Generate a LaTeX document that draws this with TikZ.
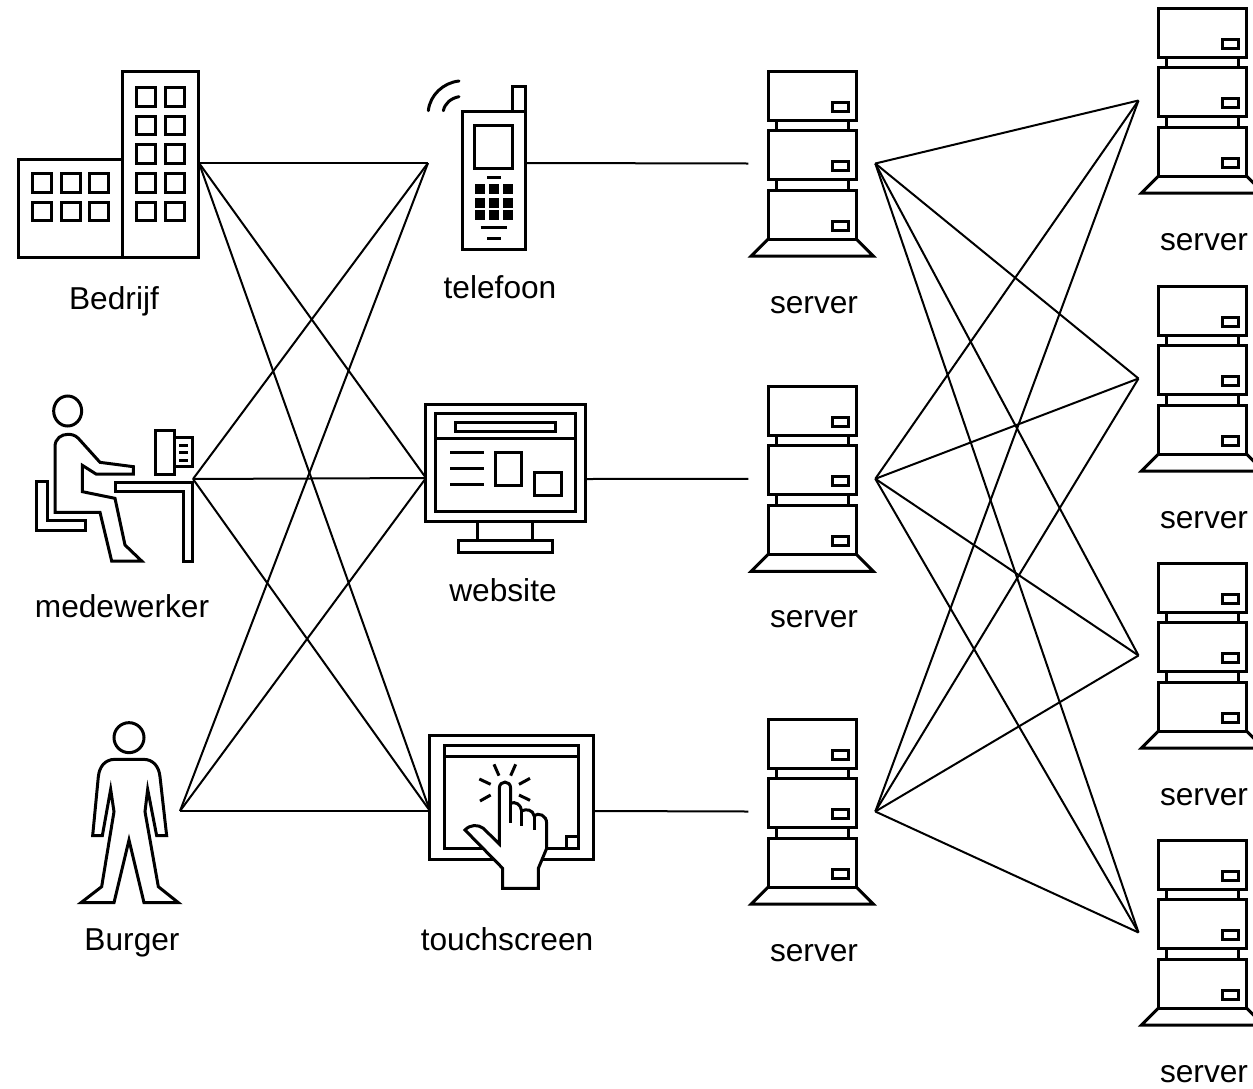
\documentclass[tikz,border=0pt]{standalone}
\usepackage{fontspec}
\setmainfont{Liberation Sans}
\tikzset{
  icon/.style={line width=1.8pt},
  wire/.style={line width=1.2pt},
  lbl/.style={font=\fontsize{19}{23}\selectfont, inner sep=0pt},
  zoomed/.style={shift={#1}, scale=1/3, icon},
  serverstack/.pic={
    \foreach \t in {0,59,119}{
      \draw[icon] (-44,\t) rectangle (44,\t+49);
      \draw[icon] (20,\t+31) rectangle (36,\t+40);
    }
    \foreach \t in {49,108}{
      \draw[icon] (-36,\t) -- (-36,\t+10);
      \draw[icon] (36,\t) -- (36,\t+10);
    }
    \draw[icon] (-44,168) -- (-61,185) -- (61,185) -- (44,168);
    \coordinate (-w) at (-64,92.5);
    \coordinate (-e) at (63,92.5);
  }
}
\begin{document}
\begin{tikzpicture}[x=0.6pt,y=-0.6pt]
  \useasboundingbox (0,0) rectangle (1253,1088);

  \coordinate (bedrijf) at (199,163);
  \coordinate (medewerker) at (193,479);
  \coordinate (burger) at (180,811);
  \coordinate (telefoonL) at (428,163);
  \coordinate (websiteL) at (426,478);
  \coordinate (touchL) at (430,811);
  \coordinate (telefoonR) at (527,163);
  \coordinate (websiteR) at (586,479);
  \coordinate (touchR) at (594,811);

  \pic (srvA) at (812.3,71) {serverstack};
  \pic (srvB) at (812.3,386.3) {serverstack};
  \pic (srvC) at (812.3,719) {serverstack};
  \pic (srvP) at (1202.5,8) {serverstack};
  \pic (srvQ) at (1202.5,286) {serverstack};
  \pic (srvR) at (1202.5,563) {serverstack};
  \pic (srvS) at (1202.5,840) {serverstack};

  % wires
  \foreach \a in {bedrijf,medewerker,burger}
    \foreach \b in {telefoonL,websiteL,touchL}
      \draw[wire] (\a) -- (\b);
  \foreach \a/\b in {telefoonR/srvA-w,websiteR/srvB-w,touchR/srvC-w}
    \draw[wire] (\a) -- (\b);
  \foreach \a in {srvA-e,srvB-e,srvC-e}
    \foreach \b in {srvP,srvQ,srvR,srvS}
      \draw[wire] (\a) -- (\b-w);

  % building
  \begin{scope}[zoomed={(0,60)}]
    \draw (368,297) -- (57,297) -- (57,592) -- (595,592) -- (595,35) -- (368,35) -- cycle;
    \draw (368,297) -- (368,592);
    \foreach \y in {82,168,254,340,426}
      \foreach \x in {410,497}
        \draw (\x,\y) rectangle +(57,56);
    \foreach \y in {340,426}
      \foreach \x in {98,184,270}
        \draw (\x,\y) rectangle +(57,56);
  \end{scope}

  % employee at a desk
  \begin{scope}[zoomed={(20,380)}]
    \draw (143,93) ellipse (42 and 45);
    \draw (105,397) -- (105,200) .. controls (105,175) and (125,163) .. (143,163)
      .. controls (155,163) and (165,165) .. (175,175) -- (240,247) -- (340,260) -- (340,282)
      -- (228,282) -- (187,256) -- (187,335) -- (285,355) -- (315,495) -- (365,543)
      -- (275,543) -- (240,397) -- cycle;
    \draw (82,305) -- (50,305) -- (50,450) -- (198,450) -- (198,422) -- (82,422) -- cycle;
    \draw (287,307) -- (518,307) -- (518,543) -- (492,543) -- (492,333) -- (287,333) -- cycle;
    \draw (407,150) rectangle (463,283);
    \draw (463,172) -- (518,172) -- (518,260) -- (463,260);
    \foreach \y in {195,218,240}
      \draw (478,\y) -- (505,\y);
  \end{scope}

  % citizen
  \begin{scope}[zoomed={(70,710)}]
    \draw (177,83) circle (45);
    \draw (68,377) -- (85,200) .. controls (88,170) and (105,148) .. (135,148) -- (220,148)
      .. controls (250,148) and (267,170) .. (270,200) -- (290,377) -- (260,377) -- (233,238)
      -- (225,305) -- (265,530) -- (325,578) -- (222,578) -- (177,390) -- (132,578)
      -- (33,578) -- (95,530) -- (132,305) -- (122,238) -- (97,377) -- cycle;
  \end{scope}

  % phone
  \begin{scope}[zoomed={(410,70)}]
    \draw (157,125) rectangle (347,538);
    \draw (308,125) -- (308,50) -- (347,50) -- (347,125);
    \draw (193,165) rectangle (308,295);
    \draw (232,322) -- (272,322);
    \foreach \x in {209,252,295}
      \foreach \y in {358,398,436}
        \fill (\x-15,\y-15) rectangle (\x+15,\y+15);
    \draw (212,473) -- (292,473);
    \draw (232,505) -- (272,505);
    \draw[line cap=round] (55,122) .. controls (60,75) and (100,38) .. (147,33);
    \draw[line cap=round] (100,122) .. controls (105,100) and (122,85) .. (147,80);
  \end{scope}

  % monitor
  \begin{scope}[zoomed={(415,395)}]
    \draw (32,27) rectangle (510,378);
    \draw (60,55) rectangle (480,350);
    \draw (60,130) -- (480,130);
    \draw (122,83) rectangle (420,108);
    \foreach \y in {172,220,268}
      \draw (105,\y) -- (207,\y);
    \draw (240,172) rectangle (320,270);
    \draw (357,232) rectangle (440,300);
    \draw (187,378) -- (187,437);
    \draw (353,378) -- (353,437);
    \draw (130,437) rectangle (412,472);
  \end{scope}

  % touchscreen
  \begin{scope}[zoomed={(420,725)}]
    \draw (28,30) rectangle (520,403);
    \draw (72,62) rectangle (475,370);
    \draw (72,95) -- (475,95);
    \draw (440,370) -- (440,335) -- (475,335);
    \draw[fill=white] (135,315) .. controls (150,298) and (175,298) .. (190,310) -- (238,357)
      -- (238,190) .. controls (238,165) and (272,165) .. (272,190) -- (272,235)
      .. controls (285,228) and (303,238) .. (305,258)
      .. controls (318,250) and (340,255) .. (342,272)
      .. controls (355,262) and (380,270) .. (380,295)
      -- (380,370) -- (355,430) -- (355,490) -- (248,490) -- (248,430) -- cycle;
    \draw (272,235) -- (272,295);
    \draw (305,258) -- (305,302);
    \draw (342,272) -- (342,315);
    \foreach \a/\b/\c/\d in {222/118/237/152, 287/118/272/152, 178/162/212/178,
                             330/160/297/178, 180/228/212/210, 330/226/297/210}
      \draw (\a,\b) -- (\c,\d);
  \end{scope}

  % labels
  \foreach \x/\y/\name/\txt in {114/301/bedrijfT/Bedrijf, 500/287/telefoonT/telefoon,
      122/606/medewerkerT/medewerker, 503/590/websiteT/website, 132/943/burgerT/Burger,
      507/939/touchT/touchscreen, 814/305/srvAT/server, 814/619/srvBT/server, 814/953/srvCT/server,
      1204/242/srvPT/server, 1204/520/srvQT/server, 1204/797/srvRT/server, 1204/1074/srvST/server}
    \node[lbl] (\name) at (\x,\y) {\txt};
\end{tikzpicture}
\end{document}
